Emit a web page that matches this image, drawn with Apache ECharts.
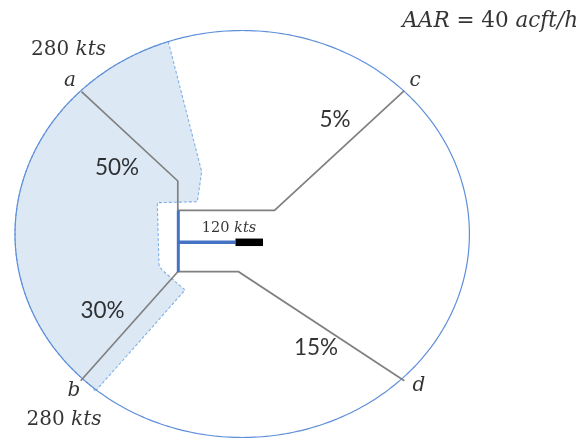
<!DOCTYPE html>
<html>
<head>
<meta charset="utf-8">
<script src="https://cdn.jsdelivr.net/npm/echarts@6/dist/echarts.min.js"></script>
<style>html,body{margin:0;padding:0;background:#fff}#c{width:583px;height:439px}</style>
</head>
<body>
<div id="c"></div>
<script>
// ---- data ----
const gates = ['a', 'b', 'c', 'd'];
const shares = [50, 30, 5, 15];          // % of traffic per gate
const entrySpeeds = [280, 280];          // kts at gates a and b
const finalSpeed = 120;                  // kts on final
const aarValue = 40;                     // acft/h

// diagram geometry in drawing units (x right, y down)
const airspace = { cx: 242.2, cy: 234, rx: 227.2, ry: 203.5 };
const routeA = [[81.5, 91.7], [177.8, 181], [177.8, 210.3]];
const routeB = [[80.7, 380.7], [177.8, 271.7]];
const routeC = [[404.3, 90.7], [274.5, 210.3], [177.8, 210.3]];
const routeD = [[404.3, 380.7], [238.5, 271.7], [177.8, 271.7]];
const finalStem = [[178.3, 210.3], [178.3, 272.2]];
const finalLeg = [[178.3, 242.3], [235.5, 242.3]];
const runway = [[235.5, 242.3], [263, 242.3]];
const shadeInner = [[168.3, 41.7], [201.7, 171.7], [197.3, 201.7], [157.3, 202.7], [159, 265], [162, 270], [185, 290], [95, 391.7]];
const gatePos = [[70, 81], [74, 391], [415, 81], [419, 386]];
const sharePos = [[117, 168], [102.5, 310.5], [335, 120], [316, 348]];
const speedPos = [[68.5, 50], [64, 420]];
const finalLabelPos = [229, 228.5];
const aarPos = [578, 21];

// ---- helpers ----
function ellAngle(p) {
  return Math.atan2((p[1] - airspace.cy) / airspace.ry, (p[0] - airspace.cx) / airspace.rx);
}
function ellPoint(t) {
  return [airspace.cx + airspace.rx * Math.cos(t), airspace.cy + airspace.ry * Math.sin(t)];
}

const mathFont = 'DejaVu Serif';
const pctFont = 'Lato';

function lineSeries(data, color, width, z) {
  return { type: 'line', data: data, symbol: 'none', silent: true, z: z,
    lineStyle: { color: color, width: width, cap: 'butt', join: 'miter' } };
}

const labelData = [];
gates.forEach((g, i) => labelData.push({ value: gatePos[i], label: { formatter: '{i|' + g + '}' } }));
shares.forEach((s, i) => labelData.push({ value: sharePos[i], label: { formatter: '{p|' + s + '%}' } }));
entrySpeeds.forEach((s, i) => labelData.push({ value: speedPos[i], label: { formatter: '{n|' + s + ' }{i|kts}' } }));
labelData.push({ value: finalLabelPos, label: { formatter: '{sn|' + finalSpeed + ' }{si|kts}' } });
labelData.push({ value: aarPos, label: { align: 'right', formatter: '{ai|AAR}{an| = ' + aarValue + ' }{ai|acft/h}' } });

const txt = '#000';
const option = {
  animation: false,
  grid: { left: 0, right: 0, top: 0, bottom: 0 },
  xAxis: { type: 'value', min: 0, max: 583, show: false },
  yAxis: { type: 'value', min: 0, max: 439, inverse: true, show: false },
  series: [
    {
      type: 'custom', z: 1, silent: true, data: [[0, 0]],
      renderItem: function (params, api) {
        const t0 = ellAngle(shadeInner[shadeInner.length - 1]);
        let t1 = ellAngle(shadeInner[0]);
        if (t1 < t0) t1 += Math.PI * 2;
        const pts = shadeInner.slice();
        for (let k = 1; k < 120; k++) pts.push(ellPoint(t0 + (t1 - t0) * k / 120));
        return { type: 'polygon', shape: { points: pts.map(p => api.coord(p)) },
          style: { fill: '#dde8f5', stroke: '#7fb0e6', lineWidth: 1.1, lineDash: [3, 2] } };
      }
    },
    {
      type: 'custom', z: 2, silent: true, data: [[0, 0]],
      renderItem: function (params, api) {
        const pts = [];
        for (let k = 0; k <= 360; k++) pts.push(api.coord(ellPoint(k * Math.PI / 180)));
        return { type: 'polyline', shape: { points: pts },
          style: { fill: null, stroke: '#5f8fda', lineWidth: 1.2 } };
      }
    },
    lineSeries(routeA, '#808080', 1.7, 3),
    lineSeries(routeB, '#808080', 1.7, 3),
    lineSeries(routeC, '#808080', 1.7, 3),
    lineSeries(routeD, '#808080', 1.7, 3),
    lineSeries(finalStem, '#4472c4', 3, 4),
    lineSeries(finalLeg, '#4472c4', 3.5, 4),
    lineSeries(runway, '#000000', 7.5, 5),
    {
      type: 'scatter', z: 6, silent: true, symbolSize: 0, data: labelData,
      label: {
        show: true, position: 'inside', align: 'center', verticalAlign: 'middle', color: txt,
        textBorderWidth: 0,
        rich: {
          i: { fontFamily: mathFont, fontStyle: 'italic', fontSize: 20, color: txt },
          n: { fontFamily: mathFont, fontSize: 20, color: txt },
          ai: { fontFamily: mathFont, fontStyle: 'italic', fontSize: 21.5, color: txt },
          an: { fontFamily: mathFont, fontSize: 21.5, color: txt },
          p: { fontFamily: pctFont, fontSize: 22.5, color: txt },
          sn: { fontFamily: mathFont, fontSize: 14.5, color: txt },
          si: { fontFamily: mathFont, fontStyle: 'italic', fontSize: 14.5, color: txt }
        }
      }
    }
  ]
};

const chart = echarts.init(document.getElementById('c'), null, { renderer: 'canvas' });
chart.setOption(option);
</script>
</body>
</html>
